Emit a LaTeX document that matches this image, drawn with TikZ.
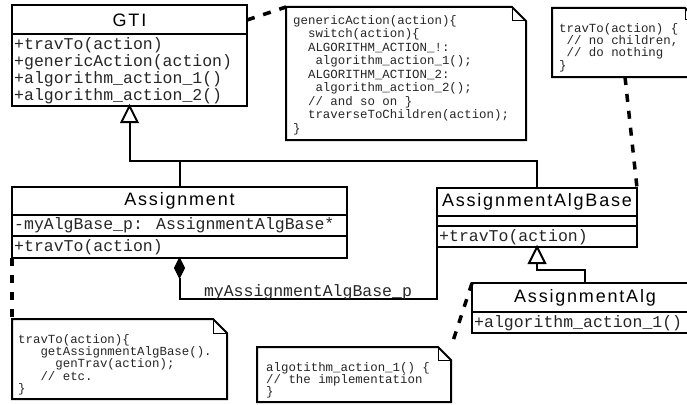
\documentclass[tikz,border=0pt]{standalone}
\usepackage{fontspec}
\setmainfont{Liberation Sans}
\newfontfamily\clsfont[LetterSpace=10]{Liberation Sans}
\newfontfamily\monofont{Liberation Mono}
\usetikzlibrary{calc}
\newcommand\umlnote[6]{%
  \node[inner sep=0pt, outer sep=0pt, minimum width=#4pt, minimum height=#5pt, anchor=north west] (#1) at (#2,#3) {};
  \draw[notebody] (#1.north west) -- ($(#1.north east)+(-#6,0)$) -- ($(#1.north east)+(0,#6)$) -- (#1.south east) -- (#1.south west) -- cycle;
  \draw[fold] ($(#1.north east)+(-#6,0)$) -- ($(#1.north east)+(-#6,#6)$) -- ($(#1.north east)+(0,#6)$);
}
\begin{document}
\begin{tikzpicture}[x=1pt,y=-1pt,
  box/.style={draw, line width=2pt, anchor=north west, inner sep=0pt, outer sep=0pt, fill=white},
  cname/.style={font=\clsfont\fontsize{18}{20}\selectfont, inner sep=0pt},
  member/.style={font=\monofont\fontsize{16.5}{17}\selectfont, anchor=west, inner sep=0pt, text=black!85},
  notetext/.style={font=\monofont\fontsize{12.4}{12.3}\selectfont, anchor=north west, inner sep=0pt, align=left, text=black!85},
  link/.style={line width=2pt},
  notelink/.style={line width=3.5pt, dash pattern=on 8pt off 9pt},
  notebody/.style={line width=2pt, fill=white},
  fold/.style={line width=1pt}
]
\useasboundingbox (0,0) rectangle (687,404);
\fill[white] (0,0) rectangle (687,404);

% ---------- class boxes ----------
\node[box, minimum width=235pt, minimum height=101pt] (gti) at (12,5) {};
\node[box, minimum width=335pt, minimum height=71pt] (assign) at (12,187) {};
\node[box, minimum width=200pt, minimum height=59pt] (algbase) at (437,188) {};
\node[box, minimum width=226pt, minimum height=50pt] (alg) at (472,283) {};

% ---------- notes ----------
\umlnote{note1}{286}{7}{240}{133}{14}
\umlnote{note2}{552}{8}{145}{69}{12}
\umlnote{note3}{12}{319}{215}{80}{14}
\umlnote{note4}{257}{347}{194}{55}{13}

% ---------- note links ----------
\draw[notelink] ($(gti.north east)+(0,15)$) -- (note1.north west);
\draw[notelink] ($(note2.south west)+(73,0)$) -- (algbase.north east);
\draw[notelink] (assign.south west) -- (note3.north west);
\draw[notelink] (alg.north west) -- (note4.north east);

% ---------- compartments ----------
\draw[link] ($(gti.north west)+(0,29)$) -- ($(gti.north east)+(0,29)$);
\draw[link] ($(assign.north west)+(0,28)$) -- ($(assign.north east)+(0,28)$);
\draw[link] ($(assign.north west)+(0,49)$) -- ($(assign.north east)+(0,49)$);
\draw[link] ($(algbase.north west)+(0,28)$) -- ($(algbase.north east)+(0,28)$);
\draw[link] ($(algbase.north west)+(0,38)$) -- ($(algbase.north east)+(0,38)$);
\draw[link] ($(alg.north west)+(0,29)$) -- ($(alg.north east)+(0,29)$);

% ---------- class texts ----------
\node[cname] (gtin) at ($(gti.north)+(0,15)$) {GTI};
\node[member] (g1) at (14,45) {+travTo(action)};
\node[member] (g2) at (14,62) {+genericAction(action)};
\node[member] (g3) at (14,79) {+algorithm\_action\_1()};
\node[member] (g4) at (14,96) {+algorithm\_action\_2()};

\node[cname] (assn) at ($(assign.north)+(0,14)$) {Assignment};
\node[member] (a1) at (14,225) {-myAlgBase\_p: AssignmentAlgBase*};
\node[member] (a2) at (14,247) {+travTo(action)};

\node[cname] (abn) at ($(algbase.north)+(0,14)$) {AssignmentAlgBase};
\node[member] (ab1) at (439,237) {+travTo(action)};

\node[cname] (aln) at ($(alg.north)+(0,15)$) {AssignmentAlg};
\node[member] (al1) at (474,323) {+algorithm\_action\_1()};

% ---------- generalisation ----------
\coordinate (bus) at (0,161);
\coordinate (tri1b) at ($(gti.south)+(0,16)$);
\draw[link] (assign.north) -- (assign.north |- bus) -- (tri1b |- bus) -- (tri1b);
\draw[link] (algbase.north) -- (algbase.north |- bus) -- (assign.north |- bus);
\draw[link, fill=white] (gti.south) -- ($(gti.south)+(-8,16)$) -- ($(gti.south)+(8,16)$) -- cycle;

\coordinate (tri2b) at ($(algbase.south)+(0,16)$);
\draw[link] (alg.north) -- ++(0,-13) -| (tri2b);
\draw[link, fill=white] (algbase.south) -- ($(algbase.south)+(-8,16)$) -- ($(algbase.south)+(8,16)$) -- cycle;

% ---------- composition ----------
\coordinate (diab) at ($(assign.south)+(0,20)$);
\draw[link] (diab) -- ++(0,21) -| (algbase.south west);
\draw[line width=1pt, fill=black] (assign.south) -- ++(5,10) -- ++(-5,10) -- ++(-5,-10) -- cycle;
\node[member, anchor=center] (rolelbl) at (308,292) {myAssignmentAlgBase\_p};

% ---------- note texts ----------
\node[notetext, font=\monofont\fontsize{12.4}{13.5}\selectfont] (t1) at (293,15) {genericAction(action)\{\\
\phantom{xx}switch(action)\{\\
\phantom{xx}ALGORITHM\_ACTION\_!:\\
\phantom{xxx}algorithm\_action\_1();\\
\phantom{xx}ALGORITHM\_ACTION\_2:\\
\phantom{xxx}algorithm\_action\_2();\\
\phantom{xx}// and so on \}\\
\phantom{xx}traverseToChildren(action);\\
\}};
\node[notetext] (t2) at (559,23) {travTo(action) \{\\
\phantom{x}// no children,\\
\phantom{x}// do nothing\\
\}};
\node[notetext] (t3) at (18,334) {travTo(action)\{\\
\phantom{xxx}getAssignmentAlgBase().\\
\phantom{xxxxx}genTrav(action);\\
\phantom{xxx}// etc.\\
\}};
\node[notetext] (t4) at (266,362) {algotithm\_action\_1() \{\\
// the implementation\\
\}};
\end{tikzpicture}
\end{document}
